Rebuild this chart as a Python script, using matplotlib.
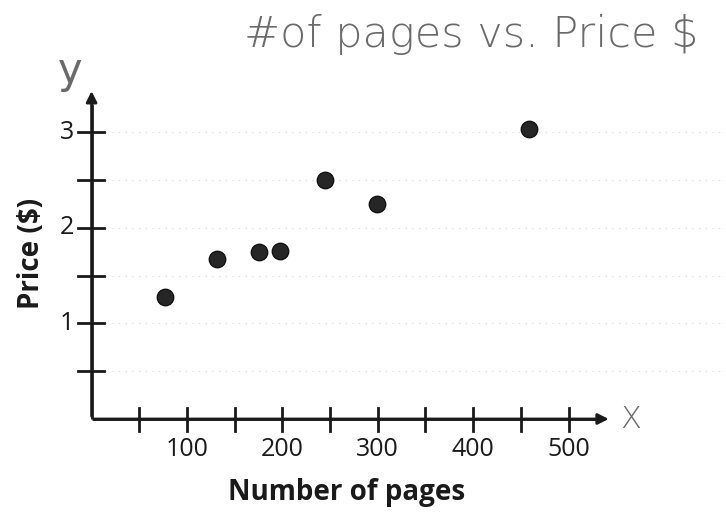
import matplotlib.pyplot as plt

# number of pages vs price
pages = [77, 131, 175, 198, 245, 299, 459]
price = [1.28, 1.67, 1.75, 1.76, 2.50, 2.25, 3.03]

x_ticks = [50, 100, 150, 200, 250, 300, 350, 400, 450, 500]
x_labels = ['', '100', '', '200', '', '300', '', '400', '', '500']
y_ticks = [0.5, 1, 1.5, 2, 2.5, 3]
y_labels = ['', '1', '', '2', '', '3']

INK = '#1a1a1a'
LABEL_FONT = ['Open Sans', 'DejaVu Sans']

fig = plt.figure(figsize=(7.26, 5.16), dpi=100)
ax = fig.add_axes([0, 0, 1, 1])
ax.set_xlim(-96, 665)
ax.set_ylim(-1.015, 4.384)
ax.axis('off')

# faint dotted guide lines of the worksheet
for yv in y_ticks:
    ax.plot([0, 665], [yv, yv], ls=(0, (1, 5)), color='#d6d6d6', lw=0.8, zorder=1)

# axes with arrow heads
ax.annotate('', xy=(545, 0), xytext=(0, 0),
            arrowprops=dict(arrowstyle='-|>', color=INK, lw=2.0, mutation_scale=16))
ax.annotate('', xy=(0, 3.46), xytext=(0, 0),
            arrowprops=dict(arrowstyle='-|>', color=INK, lw=2.0, mutation_scale=16))
ax.plot([0, 0], [0, 3.3], color=INK, lw=2.0, solid_capstyle='butt')
ax.plot([0, 530], [0, 0], color=INK, lw=2.0, solid_capstyle='butt')

# tick marks drawn across the axis lines
for xv, lab in zip(x_ticks, x_labels):
    ax.plot([xv, xv], [-0.13, 0.12], color=INK, lw=2.0)
    if lab:
        ax.text(xv, -0.32, lab, ha='center', va='center', fontsize=18,
                family=LABEL_FONT, color=INK)
for yv, lab in zip(y_ticks, y_labels):
    ax.plot([-14, 13], [yv, yv], color=INK, lw=2.0)
    if lab:
        ax.text(-26, yv, lab, ha='center', va='center', fontsize=18,
                family=LABEL_FONT, color=INK)

ax.text(267, -0.77, 'Number of pages', ha='center', va='center', fontsize=20,
        fontweight='bold', family=LABEL_FONT, color=INK)
ax.text(-63, 1.73, 'Price ($)', ha='center', va='center', rotation=90,
        fontsize=20, fontweight='bold', family=LABEL_FONT, color=INK)

# pencil annotations
PENCIL = '#6a6a6a'
ax.text(398, 4.02, '#of pages vs. Price $', ha='center', va='center',
        fontsize=31, color=PENCIL, family=['DejaVu Sans'], fontweight='light')
ax.text(-22, 3.64, 'y', ha='center', va='center', fontsize=30, color=PENCIL)
ax.text(565, -0.01, 'X', ha='center', va='center', fontsize=22, color=PENCIL,
        fontweight='light')

ax.scatter(pages, price, s=140, color='#262626', edgecolors='#111111',
           linewidths=1, zorder=5)

fig.savefig('out.png', dpi=100)
